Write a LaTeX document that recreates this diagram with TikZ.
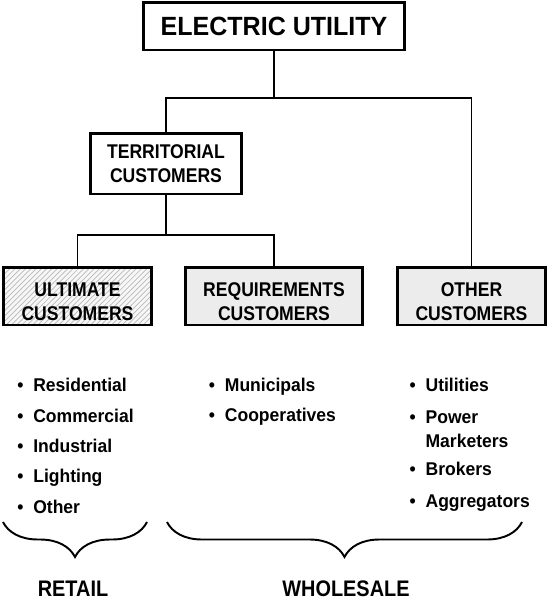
\documentclass[tikz,border=0pt]{standalone}
\usepackage{fontspec}
\setmainfont{Liberation Sans}
\newfontfamily\boxfont[FakeStretch=0.885]{Liberation Sans}
\newfontfamily\itemfont[FakeStretch=0.95]{Liberation Sans}
\usetikzlibrary{patterns,decorations.pathreplacing}

\tikzset{
  box/.style={draw, line width=1.7pt, align=center, inner sep=0pt,
    font=\boxfont\bfseries\fontsize{11.3}{13.6}\selectfont},
  lowtext/.style={text height=27.4pt, text depth=0pt},
  grey/.style={box, lowtext, fill=gray!15},
  hatch/.style={box, lowtext, preaction={fill=gray!6}, pattern=north east lines, pattern color=gray!55},
  wire/.style={line width=1.1pt},
  itm/.style={anchor=base west, inner sep=0pt, align=left,
    font=\itemfont\bfseries\fontsize{10.5}{13.6}\selectfont},
  brc/.style={line width=1.1pt, decorate, decoration={brace, amplitude=0.7cm}},
  grp/.style={inner sep=0pt, font=\boxfont\bfseries\fontsize{12.8}{15}\selectfont}
}
\newcommand{\bul}{\textbullet\hspace{5.6pt}}

\begin{document}
\begin{tikzpicture}[x=0.02cm, y=-0.02cm]
    \useasboundingbox (0,0) rectangle (550,600);

    % Kästen
    \node[box, minimum width=5.24cm, minimum height=0.96cm,
      font=\itemfont\bfseries\fontsize{15}{17}\selectfont] (eu) at (274,26) {ELECTRIC UTILITY};
    \node[box, minimum width=3.04cm, minimum height=1.22cm] (ter) at (166,163.5) {TERRITORIAL\\CUSTOMERS};
    \node[hatch, minimum width=2.98cm, minimum height=1.16cm] (ult) at (77.5,296) {ULTIMATE\\CUSTOMERS};
    \node[grey, minimum width=3.56cm, minimum height=1.16cm] (req) at (274,296) {REQUIREMENTS\\CUSTOMERS};
    \node[grey, minimum width=2.98cm, minimum height=1.16cm] (oth) at (471.5,296) {OTHER\\CUSTOMERS};

    % Verbindungen
    \coordinate (top) at (274,98);
    \coordinate (mid) at (166,235);
    \draw[wire] (eu) -- (top);
    \draw[wire] (ter.north) |- (top) -| (oth.north);
    \draw[wire] (ter) -- (mid);
    \draw[wire] (ult.north) |- (mid) -| (req.north);

    % Listen
    \foreach \t [count=\i] in {Residential,Commercial,Industrial,Lighting,Other}
        \node[itm] (ret\i) at (17,{385+30.4*(\i-1)+6.6}) {\bul\t};
    \foreach \t [count=\i] in {Municipals,Cooperatives}
        \node[itm] (whl\i) at (208.6,{385+30*(\i-1)+6.6}) {\bul\t};
    \node[itm] (oth1) at (409.3,391.6) {\bul Utilities};
    \node[itm] (oth2) at (409.3,447.6) {\bul Power\\\phantom{\bul}Marketers};
    \node[itm] (oth3) at (409.3,475.6) {\bul Brokers};
    \node[itm] (oth4) at (409.3,507.6) {\bul Aggregators};

    % Klammern
    \coordinate (rl) at (3,522);
    \coordinate (rr) at (147,522);
    \coordinate (wl) at (167,522);
    \coordinate (wr) at (522,522);
    \draw[brc] (rr) -- (rl);
    \draw[brc] (wr) -- (wl);

    \node[grp] (retail) at (73,589) {RETAIL};
    \node[grp] (whole) at (346,589) {WHOLESALE};
\end{tikzpicture}
\end{document}
